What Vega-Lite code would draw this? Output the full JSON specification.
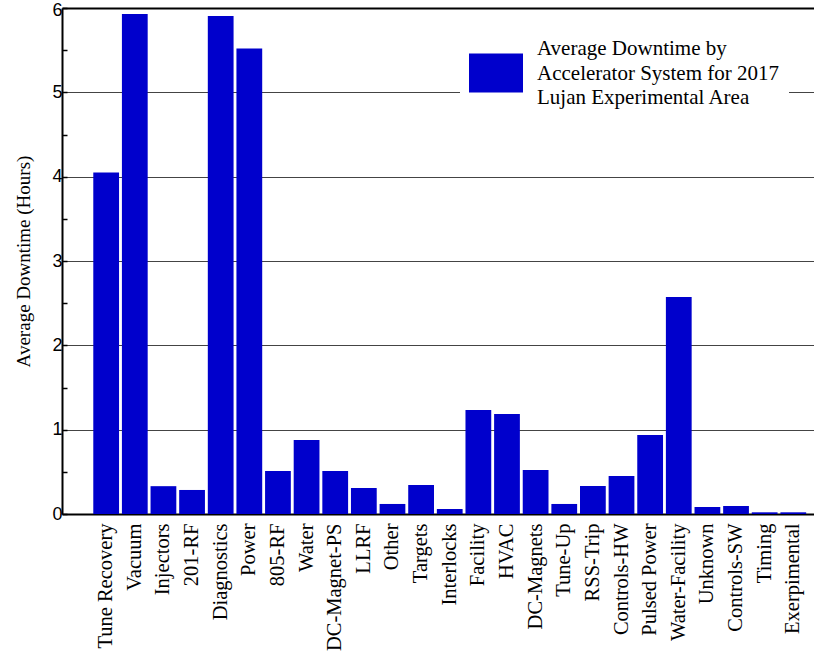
{
  "$schema": "https://vega.github.io/schema/vega-lite/v6.json",
  "autosize": "none",
  "width": 752,
  "height": 506,
  "padding": {"left": 62, "top": 8, "right": 0, "bottom": 141},
  "background": "white",
  "data": {
    "values": [
      {"system": "Tune Recovery", "hours": 4.05},
      {"system": "Vacuum", "hours": 5.93},
      {"system": "Injectors", "hours": 0.33},
      {"system": "201-RF", "hours": 0.285},
      {"system": "Diagnostics", "hours": 5.905},
      {"system": "Power", "hours": 5.52},
      {"system": "805-RF", "hours": 0.51},
      {"system": "Water", "hours": 0.877},
      {"system": "DC-Magnet-PS", "hours": 0.51},
      {"system": "LLRF", "hours": 0.308},
      {"system": "Other", "hours": 0.119},
      {"system": "Targets", "hours": 0.344},
      {"system": "Interlocks", "hours": 0.059},
      {"system": "Facility", "hours": 1.233},
      {"system": "HVAC", "hours": 1.186},
      {"system": "DC-Magnets", "hours": 0.522},
      {"system": "Tune-Up", "hours": 0.119},
      {"system": "RSS-Trip", "hours": 0.332},
      {"system": "Controls-HW", "hours": 0.451},
      {"system": "Pulsed Power", "hours": 0.937},
      {"system": "Water-Facility", "hours": 2.573},
      {"system": "Unknown", "hours": 0.083},
      {"system": "Controls-SW", "hours": 0.095},
      {"system": "Timing", "hours": 0.02},
      {"system": "Exerpimental", "hours": 0.02}
    ]
  },
  "mark": {"type": "bar"},
  "encoding": {
    "x": {
      "field": "system",
      "type": "nominal",
      "sort": null,
      "scale": {"paddingInner": 0.1, "paddingOuter": 0.683, "align": 0.8},
      "axis": {
        "title": null,
        "ticks": false,
        "labelAngle": -90,
        "labelAlign": "right",
        "labelBaseline": "middle",
        "labelPadding": 9,
        "labelFont": "Liberation Serif",
        "labelFontSize": 20.5,
        "labelColor": "black",
        "labelLimit": 300,
        "domainColor": "black",
        "domainWidth": 2,
        "grid": false
      }
    },
    "y": {
      "field": "hours",
      "type": "quantitative",
      "scale": {"domain": [0, 6], "nice": false, "zero": true},
      "axis": {
        "title": "Average Downtime (Hours)",
        "titleFont": "Liberation Serif",
        "titleFontSize": 19,
        "titleFontWeight": "normal",
        "titleColor": "black",
        "titlePadding": 18,
        "values": [0, 0.5, 1, 1.5, 2, 2.5, 3, 3.5, 4, 4.5, 5, 5.5, 6],
        "labelExpr": "datum.value % 1 == 0 ? format(datum.value, 'd') : ''",
        "labelFont": "Liberation Sans",
        "labelFontSize": 18,
        "labelColor": "black",
        "labelPadding": 5,
        "labelOffset": {"condition": {"test": "datum.value == 6", "value": 2}, "value": 0},
        "tickSize": -5,
        "tickColor": "black",
        "tickWidth": 1.5,
        "domainColor": "black",
        "domainWidth": 2,
        "grid": true,
        "gridColor": {"condition": {"test": "datum.value == 6", "value": "black"}, "value": "#444"},
        "gridWidth": {"condition": {"test": "datum.value == 6", "value": 2}, "value": 1},
        "gridOpacity": {"condition": {"test": "datum.value % 1 != 0", "value": 0}, "value": 1}
      }
    },
    "color": {
      "datum": "Average Downtime by Accelerator System for 2017 Lujan Experimental Area",
      "type": "nominal",
      "scale": {"range": ["#0000cc"]},
      "legend": {
        "title": null,
        "orient": "none",
        "legendX": 398,
        "legendY": 29,
        "fillColor": "white",
        "strokeColor": null,
        "padding": 9,
        "symbolType": "M-1,-0.722L1,-0.722L1,0.722L-1,0.722Z",
        "symbolSize": 2916,
        "symbolStrokeWidth": 0,
        "symbolOpacity": 1,
        "labelFont": "Liberation Serif",
        "labelFontSize": 21,
        "labelColor": "black",
        "labelLimit": 600,
        "labelOffset": 14,
        "labelExpr": "['Average Downtime by', 'Accelerator System for 2017', 'Lujan Experimental Area']",
        "encode": {
          "labels": {"update": {"dy": {"value": -24}, "lineHeight": {"value": 24.5}}}
        }
      }
    }
  },
  "config": {
    "font": "Liberation Serif",
    "view": {"stroke": null},
    "axisY": {"titleFont": "Liberation Serif"}
  }
}
